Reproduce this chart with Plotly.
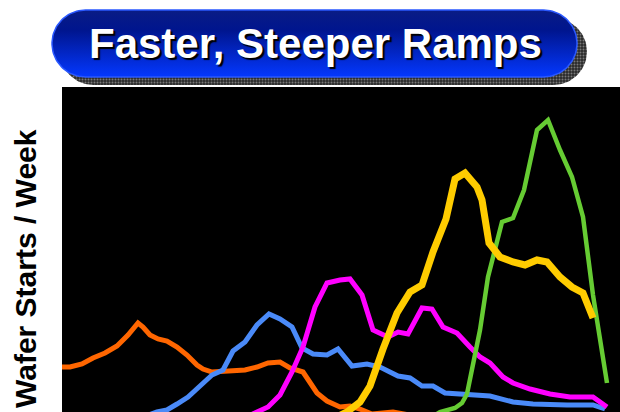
import numpy as np
import plotly.graph_objects as go

# Days since first start (x) and wafer starts per week (y) for each process generation
gen_a_day = [0, 8, 20, 31, 43, 55, 66, 76, 81, 88, 96, 105, 115, 125, 135, 141, 150, 165, 183,
             195, 206, 218, 228, 241, 248, 255, 265, 278, 288, 298, 310, 331, 353, 388, 438, 498]
gen_a_wspw = [580, 580, 610, 670, 720, 790, 900, 1020, 980, 900, 860, 840, 780, 700, 600, 560,
              530, 540, 550, 580, 620, 630, 570, 530, 420, 320, 240, 180, 190, 160, 110, 130,
              90, 50, 20, 0]

gen_b_day = [48, 78, 95, 105, 115, 126, 138, 150, 161, 171, 183, 195, 207, 218, 230, 240, 251,
             265, 276, 290, 305, 318, 336, 348, 360, 371, 383, 405, 428, 451, 471, 505, 531, 543]
gen_b_wspw = [10, 70, 130, 150, 210, 280, 390, 500, 550, 740, 830, 1000, 1110, 1060, 980, 770,
              710, 700, 760, 590, 610, 580, 490, 470, 390, 390, 320, 310, 290, 230, 210, 200,
              200, 160]

gen_c_day = [158, 178, 195, 206, 218, 230, 241, 248, 253, 265, 278, 288, 300, 311, 326, 336, 346,
             360, 370, 381, 395, 408, 418, 428, 441, 451, 468, 488, 508, 531, 545]
gen_c_wspw = [0, 50, 130, 180, 300, 530, 780, 1030, 1180, 1420, 1450, 1460, 1300, 950, 880, 930,
              910, 1170, 1160, 980, 920, 780, 680, 620, 480, 420, 360, 310, 280, 280, 180]

gen_d_day = [258, 273, 285, 298, 308, 321, 335, 348, 360, 371, 384, 393, 403, 415, 420, 427, 438,
             451, 463, 475, 485, 498, 510, 521, 530, 531]
gen_d_wspw = [0, 70, 130, 230, 390, 760, 1120, 1330, 1400, 1730, 2060, 2460, 2520, 2380, 2250,
              1820, 1680, 1630, 1600, 1650, 1630, 1480, 1380, 1320, 1120, 1070]

gen_e_day = [358, 378, 393, 400, 405, 411, 418, 426, 440, 451, 462, 475, 486, 498, 510, 521, 531,
             545]
gen_e_wspw = [0, 130, 170, 220, 310, 620, 950, 1480, 2030, 2070, 2350, 2950, 3050, 2750, 2480,
              2080, 1300, 420]

series = [
    (gen_a_day, gen_a_wspw, "#FF6600", 5),
    (gen_b_day, gen_b_wspw, "#4A8AF8", 5),
    (gen_c_day, gen_c_wspw, "#FF00FF", 5),
    (gen_e_day, gen_e_wspw, "#66CC33", 4.5),
    (gen_d_day, gen_d_wspw, "#FFCC00", 7),
]

title_text = "Faster, Steeper Ramps"
y_title = "Wafer Starts / Week"

W, H = 620, 412
fig = go.Figure()

for xs, ys, color, width in series:
    fig.add_trace(go.Scatter(x=xs, y=ys, mode="lines", xaxis="x", yaxis="y",
                             line=dict(color=color, width=width), hoverinfo="skip"))


def pill(x0, y0, x1, y1, n=48):
    """Closed outline of a fully rounded banner, in pixel units (y downward)."""
    r = (y1 - y0) / 2.0
    cy = (y0 + y1) / 2.0
    t_r = np.linspace(-np.pi / 2, np.pi / 2, n)
    t_l = np.linspace(np.pi / 2, 3 * np.pi / 2, n)
    xs = np.concatenate([x1 - r + r * np.cos(t_r), x0 + r + r * np.cos(t_l)])
    ys = np.concatenate([cy + r * np.sin(t_r), cy + r * np.sin(t_l)])
    return np.append(xs, xs[0]), np.append(ys, ys[0])


# speckled drop shadow behind the banner
sx, sy = pill(60, 18, 587, 85)
fig.add_trace(go.Scatter(x=sx, y=sy, mode="lines", fill="toself", xaxis="x2", yaxis="y2",
                         line=dict(width=0, color="#333333"), fillcolor="#3a3a3a",
                         fillpattern=dict(shape=".", fgcolor="#c8c8c8", bgcolor="#2a2a2a",
                                          size=3, solidity=0.35),
                         hoverinfo="skip"))

# blue gradient banner
bx, by = pill(52, 10, 577, 77)
fig.add_trace(go.Scatter(x=bx, y=by, mode="lines", fill="toself", xaxis="x2", yaxis="y2",
                         line=dict(width=1.5, color="#2a58ff"),
                         fillgradient=dict(type="vertical", start=10, stop=77,
                                           colorscale=[[0, "#0a1c84"], [0.3, "#00158e"],
                                                       [1, "#0438ff"]]),
                         hoverinfo="skip"))

fig.update_layout(
    width=W, height=H,
    margin=dict(l=0, r=0, t=0, b=0),
    paper_bgcolor="white",
    plot_bgcolor="rgba(0,0,0,0)",
    showlegend=False,
    xaxis=dict(domain=[62 / W, 1], range=[0, 558], visible=False, fixedrange=True),
    yaxis=dict(domain=[0, (H - 87) / H], range=[130, 3380], visible=False, fixedrange=True),
    xaxis2=dict(domain=[0, 1], range=[0, W], visible=False, anchor="y2", fixedrange=True),
    yaxis2=dict(domain=[0, 1], range=[H, 0], visible=False, anchor="x2", fixedrange=True),
    shapes=[dict(type="rect", xref="x domain", yref="y domain", x0=0, x1=1, y0=0, y1=1,
                 fillcolor="black", line=dict(width=0), layer="below")],
    annotations=[
        dict(text=title_text, xref="paper", yref="paper", x=315.5 / W, y=1 - 44 / H,
             xanchor="center", yanchor="middle", showarrow=False,
             font=dict(family="Arial, Liberation Sans, sans-serif", size=42, color="white",
                       weight="bold", shadow="2px 2px 1px #000000")),
        dict(text=y_title, xref="paper", yref="paper", x=25 / W, y=(H - 269) / H,
             xanchor="center", yanchor="middle", textangle=-90, showarrow=False,
             font=dict(family="Arial, Liberation Sans, sans-serif", size=30, color="black",
                       weight="bold")),
    ],
)

fig.write_html("out.html")
